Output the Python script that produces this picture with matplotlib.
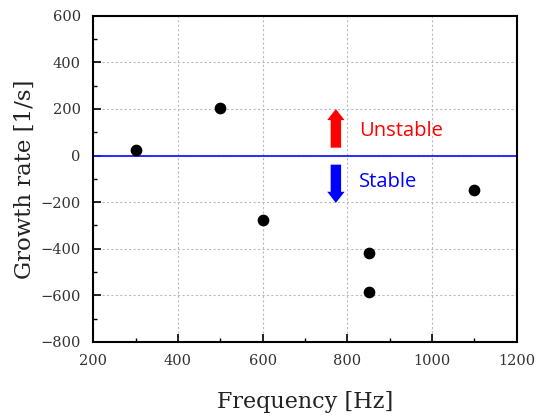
import matplotlib
matplotlib.use("Agg")
import matplotlib.pyplot as plt
from matplotlib.ticker import MultipleLocator

freq = [300, 500, 600, 850, 850, 1100]
growth = [22, 205, -275, -418, -585, -148]
x_ticks = [200, 400, 600, 800, 1000, 1200]
y_ticks = [-800, -600, -400, -200, 0, 200, 400, 600]

fig = plt.figure(figsize=(5.48, 4.16), dpi=100)
ax = fig.add_axes([0.170, 0.178, 0.773, 0.784])

ax.set_xlim(200, 1200)
ax.set_ylim(-800, 600)
ax.set_xticks(x_ticks)
ax.set_yticks(y_ticks)
ax.xaxis.set_minor_locator(MultipleLocator(100))
ax.yaxis.set_minor_locator(MultipleLocator(100))
ax.grid(True, which='major', linestyle=(0, (2, 2)), color='#bbbbbb', linewidth=0.8)
ax.set_axisbelow(True)

ax.axhline(0, color='#1a1aff', linewidth=1.3, zorder=2)
ax.scatter(freq, growth, s=55, color='black', zorder=3)

style = 'simple,head_width=1.25,head_length=0.8,tail_width=0.75'
ax.annotate('', xy=(773, 212), xytext=(773, 22),
            arrowprops=dict(arrowstyle=style, color='red', lw=0))
ax.annotate('', xy=(773, -215), xytext=(773, -27),
            arrowprops=dict(arrowstyle=style, color='blue', lw=0))
ax.text(828, 105, 'Unstable', color='red', fontsize=14.5, family='Open Sans', va='center')
ax.text(828, -113, 'Stable', color='blue', fontsize=14.5, family='Open Sans', va='center')

for s in ax.spines.values():
    s.set_linewidth(1.5)
ax.tick_params(which='major', direction='in', length=6, width=1.2, labelsize=10.5,
               labelcolor='#333333', pad=9)
ax.tick_params(which='minor', direction='in', length=3, width=1.0)
for lab in ax.get_xticklabels() + ax.get_yticklabels():
    lab.set_family('DejaVu Serif')

ax.set_xlabel('Frequency [Hz]', fontsize=16, family='DejaVu Serif', color='#222222', labelpad=16)
ax.set_ylabel('Growth rate [1/s]', fontsize=16.5, family='DejaVu Serif', color='#222222', labelpad=3)

fig.savefig('out.png', dpi=100)
